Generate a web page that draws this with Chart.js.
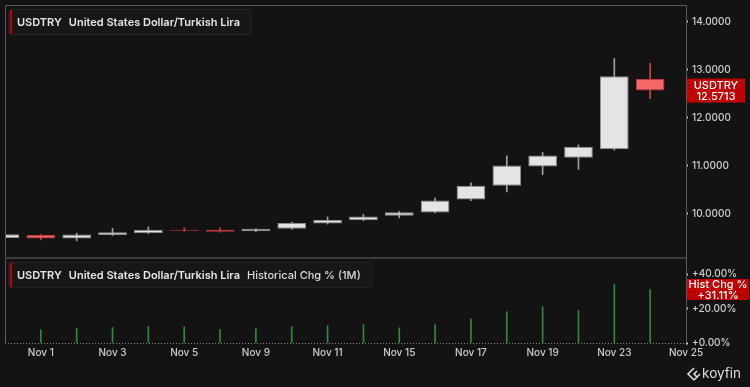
<!DOCTYPE html>
<html>
<head>
<meta charset="utf-8">
<script src="https://cdn.jsdelivr.net/npm/chart.js@4.4.0/dist/chart.umd.min.js"></script>
<style>
  html, body { margin: 0; padding: 0; background: #131313; }
  #wrap { width: 750px; height: 387px; position: relative; }
</style>
</head>
<body>
<div id="wrap"><canvas id="chart"></canvas></div>
<script>
// trading days shown on the x axis
const days = ['Oct 29', 'Nov 1', 'Nov 2', 'Nov 3', 'Nov 4', 'Nov 5', 'Nov 8', 'Nov 9', 'Nov 10',
    'Nov 11', 'Nov 12', 'Nov 15', 'Nov 16', 'Nov 17', 'Nov 18', 'Nov 19', 'Nov 22', 'Nov 23',
    'Nov 24', 'Nov 25'];

// USDTRY daily OHLC
const opens  = [9.50, 9.56, 9.49, 9.56, 9.60, 9.67, 9.67, 9.64, 9.69, 9.80, 9.87, 9.965, 10.03, 10.30, 10.59, 10.99, 11.17, 11.35, 12.81, null];
const highs  = [9.59, 9.57, 9.60, 9.70, 9.73, 9.71, 9.71, 9.69, 9.83, 9.94, 9.99, 10.055, 10.33, 10.65, 11.21, 11.28, 11.44, 13.24, 13.14, null];
const lows   = [9.49, 9.46, 9.44, 9.55, 9.59, 9.64, 9.62, 9.63, 9.68, 9.79, 9.86, 9.92, 10.02, 10.28, 10.46, 10.82, 10.93, 11.33, 12.40, null];
const closes = [9.58, 9.49, 9.57, 9.62, 9.67, 9.65, 9.63, 9.69, 9.81, 9.875, 9.95, 10.035, 10.28, 10.59, 11.01, 11.22, 11.40, 12.87, 12.5713, null];

// historical change % (1M)
const histChg = [null, 7.6, 8.4, 9.0, 9.6, 9.4, 8.0, 8.2, 9.4, 10.0, 10.6, 8.8, 10.6, 13.9, 18.2, 21.0, 18.8, 34.1, 31.11, null];

const priceTicks = [10, 11, 12, 13, 14];
const chgTicks = [0, 10, 20, 30, 40];

const lastPrice = 12.5713;
const lastChg = 31.11;

const up = (i) => closes[i] >= opens[i];
const bodies = opens.map((o, i) => o == null ? null : [o, closes[i]]);
const wicks = lows.map((l, i) => l == null ? null : [l, highs[i]]);

const FONT = 'Inter, "Noto Sans", sans-serif';

const titleMain = [
    { text: 'USDTRY', weight: 600, color: '#e6e6e6', gap: 7 },
    { text: 'United States Dollar/Turkish Lira', weight: 600, color: '#e6e6e6', gap: 7 }
];
const titleSub = { text: 'Historical Chg % (1M)', weight: 500, color: '#dcdcdc', gap: 0 };

// font size that makes the main title 223px wide, as in the reference
function titleSize(ctx) {
    const base = 12.8;
    let total = 0;
    titleMain.forEach(p => {
        ctx.font = p.weight + ' ' + base + 'px ' + FONT;
        total += ctx.measureText(p.text).width;
    });
    return base * (223 - 7) / total;
}

function titleBox(ctx, x, y, h, size, parts) {
    let w = 9;
    parts.forEach((p, i) => {
        ctx.font = p.weight + ' ' + size + 'px ' + FONT;
        w += ctx.measureText(p.text).width + (i < parts.length - 1 ? p.gap : 0);
    });
    w += 11;
    ctx.fillStyle = '#171717';
    ctx.strokeStyle = '#242424';
    ctx.lineWidth = 1;
    ctx.beginPath();
    ctx.roundRect(x + 0.5, y + 0.5, w, h, 3);
    ctx.fill();
    ctx.stroke();
    ctx.fillStyle = '#c00000';
    ctx.fillRect(x + 2, y + 1, 2, h - 1);

    let tx = x + 9;
    ctx.textBaseline = 'middle';
    ctx.textAlign = 'left';
    parts.forEach(p => {
        ctx.font = p.weight + ' ' + size + 'px ' + FONT;
        ctx.fillStyle = p.color;
        ctx.fillText(p.text, tx, y + h / 2 + 1);
        tx += ctx.measureText(p.text).width + p.gap;
    });
}

function valueBox(ctx, x, cy, w, h, lines) {
    ctx.fillStyle = '#c00000';
    ctx.fillRect(x, cy - h / 2, w, h);
    ctx.fillStyle = '#ffffff';
    ctx.font = '500 11px ' + FONT;
    ctx.textAlign = 'center';
    ctx.textBaseline = 'middle';
    ctx.fillText(lines[0], x + w / 2, cy - 5);
    ctx.fillText(lines[1], x + w / 2, cy + 6);
}

const overlay = {
    id: 'overlay',
    beforeDatasetsDraw(chart) {
        const { ctx, chartArea: ca, scales } = chart;
        ctx.save();
        // zero line of the change panel
        const y0 = Math.round(scales.y2.getPixelForValue(0)) + 0.5;
        ctx.strokeStyle = '#8a8a8a';
        ctx.setLineDash([1, 2]);
        ctx.beginPath();
        ctx.moveTo(ca.left, y0);
        ctx.lineTo(ca.right, y0);
        ctx.stroke();
        ctx.restore();
    },
    afterDraw(chart) {
        const { ctx, chartArea: ca, scales } = chart;
        ctx.save();
        // frame
        ctx.strokeStyle = '#5a5a5a';
        ctx.lineWidth = 1;
        ctx.beginPath();
        ctx.moveTo(ca.left + 0.5, ca.bottom);
        ctx.lineTo(ca.left + 0.5, ca.top + 0.5);
        ctx.lineTo(ca.right + 0.5, ca.top + 0.5);
        ctx.lineTo(ca.right + 0.5, ca.bottom);
        ctx.stroke();
        // panel separator
        ctx.fillStyle = '#3d3d3d';
        ctx.fillRect(ca.left, Math.round(scales.y.bottom) - 1, ca.right - ca.left, 2);

        const size = titleSize(ctx);
        titleBox(ctx, ca.left + 3, ca.top + 4, 25, size, titleMain);
        titleBox(ctx, ca.left + 3, Math.round(scales.y2.top) + 4, 25, size, titleMain.concat([titleSub]));

        valueBox(ctx, ca.right + 1, scales.y.getPixelForValue(lastPrice), 58, 24,
            ['USDTRY', lastPrice.toFixed(4)]);
        valueBox(ctx, ca.right + 1, scales.y2.getPixelForValue(lastChg), 62, 21,
            ['Hist Chg %', '+' + lastChg.toFixed(2) + '%']);

        // koyfin mark
        ctx.fillStyle = '#dedede';
        ctx.font = '400 13.5px ' + FONT;
        ctx.textAlign = 'right';
        ctx.textBaseline = 'middle';
        ctx.fillText('koyfin', 741, 374);
        const lx = 741 - ctx.measureText('koyfin').width - 9, ly = 375;
        ctx.strokeStyle = '#dedede';
        ctx.lineWidth = 1.6;
        ctx.beginPath();
        ctx.moveTo(lx + 1, ly - 7); ctx.lineTo(lx - 5, ly - 1); ctx.lineTo(lx + 1, ly + 5);
        ctx.moveTo(lx + 4, ly - 4); ctx.lineTo(lx + 1, ly - 1); ctx.lineTo(lx + 4, ly + 2);
        ctx.moveTo(lx + 1, ly + 5); ctx.lineTo(lx + 7, ly - 1);
        ctx.stroke();
        ctx.restore();
    }
};

// right-hand axes keep a fixed width and add no extra padding to the plot area
const fitRight = (s) => {
    s.width = 64;
    s.paddingTop = 0;
    s.paddingBottom = 0;
};

new Chart(document.getElementById('chart'), {
    type: 'bar',
    data: {
        labels: days,
        datasets: [{
            label: 'body',
            data: bodies,
            yAxisID: 'y',
            order: 0,
            grouped: false,
            barPercentage: 0.8,
            categoryPercentage: 1,
            backgroundColor: opens.map((o, i) => up(i) ? '#e4e4e4' : '#f56868'),
            borderColor: opens.map((o, i) => up(i) ? '#8f8f8f' : '#b83a3a'),
            borderWidth: 1,
            borderSkipped: false
        }, {
            label: 'wick',
            data: wicks,
            yAxisID: 'y',
            order: 1,
            grouped: false,
            barThickness: 1,
            backgroundColor: opens.map((o, i) => up(i) ? '#a0a0a0' : '#d04040')
        }, {
            label: 'Hist Chg %',
            data: histChg,
            yAxisID: 'y2',
            order: 2,
            grouped: false,
            barThickness: 1,
            backgroundColor: '#2f8a3c'
        }]
    },
    options: {
        responsive: true,
        maintainAspectRatio: false,
        animation: false,
        layout: { padding: { left: 5, top: 5, right: 0, bottom: 0 } },
        plugins: { legend: { display: false }, tooltip: { enabled: false } },
        scales: {
            x: {
                offset: false,
                grid: { display: false, drawTicks: false },
                border: { display: false },
                afterFit: (s) => { s.height = 44; s.paddingLeft = 0; s.paddingRight = 0; },
                ticks: {
                    autoSkip: false,
                    maxRotation: 0,
                    color: '#cfcfcf',
                    padding: 4,
                    font: { family: FONT, size: 10, weight: '500' },
                    callback: (v, i) => i % 2 === 1 ? days[i] : ''
                }
            },
            y: {
                position: 'right',
                stack: 'panels',
                stackWeight: 253,
                min: 9.083,
                max: 14.354,
                afterBuildTicks: (s) => { s.ticks = priceTicks.map(v => ({ value: v })); },
                afterFit: fitRight,
                grid: { drawOnChartArea: false, tickLength: 2, tickColor: '#d0d0d0', tickWidth: 2 },
                border: { display: false },
                ticks: {
                    color: '#cfcfcf',
                    padding: 4,
                    font: { family: FONT, size: 10, weight: '500' },
                    callback: (v) => v.toFixed(4)
                }
            },
            y2: {
                position: 'right',
                stack: 'panels',
                stackWeight: 85,
                min: 0,
                max: 49.4,
                afterBuildTicks: (s) => { s.ticks = chgTicks.map(v => ({ value: v })); },
                afterFit: fitRight,
                grid: { drawOnChartArea: false, tickLength: 2, tickColor: '#d0d0d0', tickWidth: 2 },
                border: { display: false },
                ticks: {
                    color: '#cfcfcf',
                    padding: 4,
                    font: { family: FONT, size: 10, weight: '500' },
                    callback: (v) => '+' + v.toFixed(2) + '%'
                }
            }
        }
    },
    plugins: [overlay]
});
</script>
</body>
</html>
